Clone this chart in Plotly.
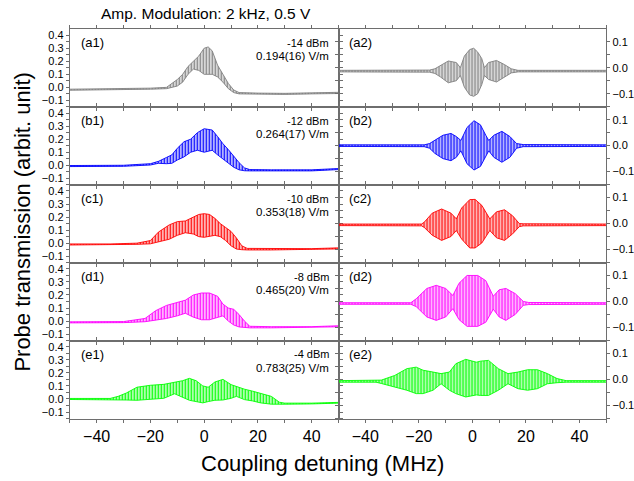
import plotly.graph_objects as go

# ---------------- data (envelopes) ----------------
X_A1 = [-50, -40, -30, -20, -14, -12, -10, -8, -6, -4, -2, 0, 1.5, 3, 5, 7, 9, 11, 13, 20, 30, 40, 50]
UP_A1 = [-0.014, -0.013, -0.011, -0.006, 0.0, 0.03, 0.06, 0.1, 0.16, 0.2, 0.24, 0.3, 0.31, 0.28, 0.17, 0.1, 0.03, -0.02, -0.04, -0.044, -0.046, -0.042, -0.038]
LO_A1 = [-0.022, -0.021, -0.019, -0.014, -0.01, 0.0, 0.01, 0.04, 0.1, 0.14, 0.13, 0.1, 0.1, 0.1, 0.08, 0.04, -0.01, -0.04, -0.05, -0.053, -0.054, -0.05, -0.047]

X_A2 = [-50, -30, -16, -14, -12, -9, -6, -4.5, -3, -1, 0.5, 2, 3.5, 4.5, 6, 9, 12, 14.5, 17, 30, 50]
UP_A2 = [-0.010, -0.010, -0.009, -0.004, 0.008, 0.026, 0.02, 0.0, 0.045, 0.07, 0.075, 0.06, 0.035, 0.0, 0.02, 0.028, 0.012, -0.004, -0.010, -0.010, -0.010]
LO_A2 = [-0.016, -0.016, -0.017, -0.022, -0.035, -0.058, -0.05, -0.03, -0.075, -0.105, -0.11, -0.1, -0.065, -0.03, -0.045, -0.055, -0.035, -0.02, -0.016, -0.016, -0.016]

X_B1 = [-50, -40, -30, -20, -17, -14, -12, -10, -7.5, -5, -2.5, 0, 3, 5, 7, 9, 11, 13, 15, 17, 25, 40, 50]
UP_B1 = [-0.002, -0.003, 0.0, 0.012, 0.03, 0.06, 0.08, 0.13, 0.18, 0.2, 0.25, 0.28, 0.27, 0.22, 0.165, 0.12, 0.07, 0.02, -0.02, -0.033, -0.035, -0.035, -0.025]
LO_B1 = [-0.01, -0.011, -0.008, 0.002, 0.015, 0.012, 0.015, 0.04, 0.064, 0.1, 0.115, 0.1, 0.115, 0.08, 0.05, 0.02, -0.015, -0.035, -0.042, -0.043, -0.045, -0.043, -0.033]

X_B2 = [-50, -30, -18, -16, -14, -11, -8, -6, -4.3, -2, 0.6, 3, 5, 6.1, 8, 11, 14, 16.5, 19, 35, 50]
UP_B2 = [0.003, 0.003, 0.003, 0.008, 0.02, 0.04, 0.047, 0.035, 0.02, 0.07, 0.096, 0.08, 0.04, 0.02, 0.04, 0.055, 0.035, 0.008, 0.004, 0.003, 0.003]
LO_B2 = [-0.003, -0.003, -0.004, -0.01, -0.03, -0.05, -0.058, -0.045, -0.02, -0.07, -0.094, -0.08, -0.04, -0.02, -0.045, -0.064, -0.045, -0.01, -0.004, -0.003, -0.003]

X_C1 = [-50, -35, -25, -20, -17, -13, -10, -7, -4, -2, 0, 2, 4, 6, 8, 10, 12, 14, 16, 25, 40, 50]
UP_C1 = [-0.006, -0.006, 0.0, 0.02, 0.085, 0.14, 0.165, 0.17, 0.2, 0.22, 0.226, 0.22, 0.19, 0.15, 0.12, 0.09, 0.04, -0.02, -0.04, -0.042, -0.042, -0.036]
LO_C1 = [-0.014, -0.014, -0.009, -0.005, 0.01, 0.03, 0.06, 0.08, 0.07, 0.05, 0.045, 0.05, 0.06, 0.05, 0.02, -0.02, -0.045, -0.05, -0.052, -0.052, -0.05, -0.044]

X_C2 = [-50, -30, -19, -18, -15, -11.5, -8, -6, -4, -1, 1, 3.5, 6.5, 9, 12, 15, 17.5, 19, 35, 50]
UP_C2 = [-0.002, -0.002, -0.002, 0.005, 0.04, 0.056, 0.04, 0.018, 0.06, 0.092, 0.093, 0.07, 0.018, 0.045, 0.053, 0.03, 0.0, -0.001, -0.002, -0.002]
LO_C2 = [-0.008, -0.008, -0.009, -0.015, -0.045, -0.065, -0.05, -0.027, -0.06, -0.094, -0.094, -0.075, -0.027, -0.055, -0.065, -0.04, -0.012, -0.009, -0.008, -0.008]

X_D1 = [-50, -30, -22, -18, -14, -10, -7, -4, -1, 2, 5, 7, 9, 11, 13, 15, 17, 25, 40, 50]
UP_D1 = [-0.006, -0.004, 0.02, 0.08, 0.12, 0.14, 0.16, 0.2, 0.215, 0.215, 0.19, 0.13, 0.1, 0.09, 0.05, 0.0, -0.04, -0.043, -0.043, -0.036]
LO_D1 = [-0.014, -0.012, -0.005, 0.005, 0.02, 0.04, 0.06, 0.03, 0.01, 0.01, 0.03, 0.04, 0.0, -0.03, -0.045, -0.05, -0.052, -0.052, -0.05, -0.044]

X_D2 = [-50, -30, -23, -21, -17, -13.5, -10, -7.3, -5, -2, 2, 5, 7.8, 10, 12.5, 16, 19, 21, 35, 50]
UP_D2 = [-0.005, -0.005, -0.005, 0.01, 0.05, 0.062, 0.05, 0.023, 0.07, 0.1, 0.1, 0.08, 0.02, 0.045, 0.05, 0.03, 0.0, -0.004, -0.005, -0.005]
LO_D2 = [-0.011, -0.011, -0.011, -0.02, -0.06, -0.073, -0.06, -0.028, -0.07, -0.096, -0.096, -0.08, -0.03, -0.06, -0.073, -0.05, -0.015, -0.012, -0.011, -0.011]

X_E1 = [-50, -35, -32, -29, -25, -20, -15, -11, -8, -5.5, -3, -0.5, 1.5, 4, 7, 10, 12, 15, 18, 21, 25, 28, 30, 40, 50]
UP_E1 = [0.004, 0.004, 0.02, 0.045, 0.09, 0.105, 0.112, 0.125, 0.14, 0.158, 0.14, 0.1, 0.09, 0.13, 0.15, 0.11, 0.095, 0.075, 0.06, 0.045, 0.02, -0.025, -0.032, -0.032, -0.026]
LO_E1 = [-0.004, -0.004, -0.005, -0.008, -0.01, 0.0, 0.005, 0.04, 0.01, -0.01, -0.02, -0.03, -0.02, -0.01, -0.008, 0.005, 0.02, -0.005, -0.015, -0.03, -0.04, -0.043, -0.04, -0.038, -0.032]

X_E2 = [-50, -36, -34, -29, -24.5, -21, -18.4, -14.7, -11.7, -8.6, -6.2, -2.5, 0, 1.5, 3, 6, 9.7, 13.3, 17, 20.6, 24.3, 28, 31.6, 35, 50]
UP_E2 = [-0.005, -0.005, -0.003, 0.015, 0.041, 0.047, 0.035, 0.028, 0.022, 0.028, 0.06, 0.077, 0.07, 0.066, 0.07, 0.073, 0.041, 0.022, 0.028, 0.037, 0.037, 0.022, 0.003, -0.005, -0.005]
LO_E2 = [-0.011, -0.011, -0.016, -0.03, -0.042, -0.055, -0.055, -0.042, -0.017, -0.042, -0.055, -0.068, -0.062, -0.06, -0.062, -0.062, -0.042, -0.017, -0.036, -0.042, -0.036, -0.017, -0.013, -0.011, -0.011]

PANEL_LABELS = ["(a1)", "(a2)", "(b1)", "(b2)", "(c1)", "(c2)", "(d1)", "(d2)", "(e1)", "(e2)"]
POWERS = ["-14 dBm", "-12 dBm", "-10 dBm", "-8 dBm", "-4 dBm"]
FIELDS = ["0.194(16) V/m", "0.264(17) V/m", "0.353(18) V/m", "0.465(20) V/m", "0.783(25) V/m"]
ROW_COLORS = ["#808080", "#0000ff", "#ff0000", "#ff00ff", "#00ff00"]
ROW_TINTS = ["rgba(128,128,128,0.18)", "rgba(0,0,255,0.15)", "rgba(255,0,0,0.15)",
             "rgba(255,0,255,0.15)", "rgba(0,255,0,0.18)"]
LEFT_TICKS = [-0.1, 0.0, 0.1, 0.2, 0.3, 0.4]
RIGHT_TICKS = [-0.1, 0.0, 0.1]
X_TICKS = [-40, -20, 0, 20, 40]
TITLE = "Amp. Modulation: 2 kHz, 0.5 V"
XLABEL = "Coupling detuning (MHz)"
YLABEL = "Probe transmission (arbit. unit)"

SERIES = [
    (X_A1, UP_A1, LO_A1), (X_A2, UP_A2, LO_A2),
    (X_B1, UP_B1, LO_B1), (X_B2, UP_B2, LO_B2),
    (X_C1, UP_C1, LO_C1), (X_C2, UP_C2, LO_C2),
    (X_D1, UP_D1, LO_D1), (X_D2, UP_D2, LO_D2),
    (X_E1, UP_E1, LO_E1), (X_E2, UP_E2, LO_E2),
]

# ---------------- layout geometry (pixels) ----------------
W, H = 634, 481
XL, XM, XR = 71.0, 344.5, 617.0
TOP, ROWH = 29.3, 77.9
FONT = "Arial, 'Liberation Sans', sans-serif"
FRAME = "#6e6e6e"

fig = go.Figure()
layout = dict(width=W, height=H, margin=dict(l=0, r=0, t=0, b=0),
              paper_bgcolor="white", plot_bgcolor="white", showlegend=False,
              font=dict(family=FONT, color="black"))
annotations = []

def px2x(p):
    return p / W

def px2y(p):
    return 1 - p / H

for k, (xs, up, lo) in enumerate(SERIES):
    row, col = divmod(k, 2)
    n = k + 1
    xname = "x" if n == 1 else f"x{n}"
    yname = "y" if n == 1 else f"y{n}"
    color = ROW_COLORS[row]
    fig.add_trace(go.Scatter(x=xs, y=lo, mode="lines", line=dict(color=color, width=0.9),
                             xaxis=xname, yaxis=yname, hoverinfo="skip"))
    fig.add_trace(go.Scatter(x=xs, y=up, mode="lines", line=dict(color=color, width=0.9),
                             fill="tonexty", fillcolor=ROW_TINTS[row],
                             fillpattern=dict(shape="|", fgcolor=color, bgcolor=ROW_TINTS[row],
                                              size=3, solidity=0.45, fillmode="replace"),
                             xaxis=xname, yaxis=yname, hoverinfo="skip"))
    top = TOP + ROWH * row
    bot = top + ROWH
    x0, x1 = (XL, XM) if col == 0 else (XM, XR)
    xa = dict(domain=[px2x(x0), px2x(x1)], anchor=yname, range=[-50, 50],
              tickmode="array", tickvals=X_TICKS, ticks="outside", ticklen=3,
              tickcolor=FRAME, showline=True, linecolor=FRAME, linewidth=1,
              mirror="ticks", showgrid=False, zeroline=False,
              minor=dict(dtick=10, tick0=0, ticks="outside", ticklen=3, tickcolor=FRAME),
              showticklabels=(row == 4), tickfont=dict(size=16, family=FONT, color="black"))
    if col == 0:
        ya = dict(domain=[px2y(bot), px2y(top)], anchor=xname, range=[-0.152, 0.445],
                  tickmode="array", tickvals=LEFT_TICKS, tickformat=".1f",
                  ticks="outside", ticklen=3, tickcolor=FRAME, showline=True,
                  linecolor=FRAME, linewidth=1, mirror="ticks", showgrid=False,
                  zeroline=False, side="left",
                  minor=dict(dtick=0.05, tick0=0, ticks="outside", ticklen=3, tickcolor=FRAME),
                  tickfont=dict(size=11, family=FONT, color="black"))
    else:
        ya = dict(domain=[px2y(bot), px2y(top)], anchor=xname, range=[-0.152, 0.148],
                  tickmode="array", tickvals=RIGHT_TICKS, tickformat=".1f",
                  ticks="outside", ticklen=3, tickcolor=FRAME, showline=True,
                  linecolor=FRAME, linewidth=1, mirror="ticks", showgrid=False,
                  zeroline=False, side="right",
                  minor=dict(dtick=0.05, tick0=0, ticks="outside", ticklen=3, tickcolor=FRAME),
                  tickfont=dict(size=11, family=FONT, color="black"))
    layout["xaxis" if n == 1 else f"xaxis{n}"] = xa
    layout["yaxis" if n == 1 else f"yaxis{n}"] = ya

    # panel tag
    annotations.append(dict(text=PANEL_LABELS[k], x=px2x(x0 + 9), y=px2y(top + 13.5),
                            xref="paper", yref="paper", xanchor="left", yanchor="middle",
                            showarrow=False, font=dict(size=13, family=FONT, color="black")))
    if col == 0:
        annotations.append(dict(text=POWERS[row], x=px2x(XM - 7.5), y=px2y(top + 13.5),
                                xref="paper", yref="paper", xanchor="right", yanchor="middle",
                                showarrow=False, font=dict(size=11, family=FONT, color="black")))
        annotations.append(dict(text=FIELDS[row], x=px2x(XM - 7.5), y=px2y(top + 27),
                                xref="paper", yref="paper", xanchor="right", yanchor="middle",
                                showarrow=False, font=dict(size=11.5, family=FONT, color="black")))

annotations.append(dict(text=TITLE, x=px2x(209.5), y=px2y(13.5), xref="paper", yref="paper",
                        xanchor="center", yanchor="middle", showarrow=False,
                        font=dict(size=15.5, family=FONT, color="black")))
annotations.append(dict(text=XLABEL, x=px2x(328), y=px2y(463), xref="paper", yref="paper",
                        xanchor="center", yanchor="middle", showarrow=False,
                        font=dict(size=22, family=FONT, color="black")))
annotations.append(dict(text=YLABEL, x=px2x(22), y=px2y(222), xref="paper", yref="paper",
                        xanchor="center", yanchor="middle", showarrow=False, textangle=-90,
                        font=dict(size=22, family=FONT, color="black")))
layout["annotations"] = annotations
fig.update_layout(**layout)
fig.write_html("out.html")
